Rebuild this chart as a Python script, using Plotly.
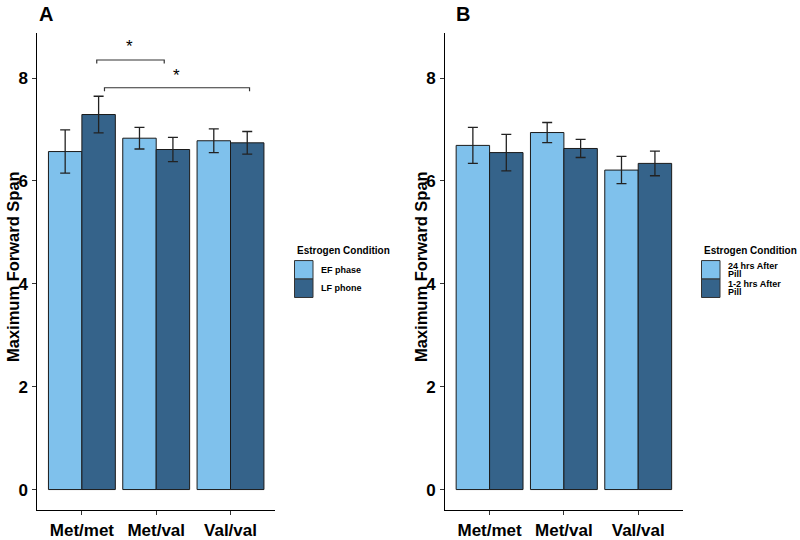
import plotly.graph_objects as go

# ---------------- data ----------------
genotypes = ["Met/met", "Met/val", "Val/val"]

a_groups = ["EF phase", "LF phone"]
a_ef_mean = [6.57, 6.83, 6.78]
a_ef_se = [0.42, 0.21, 0.23]
a_lf_mean = [7.29, 6.61, 6.74]
a_lf_se = [0.355, 0.235, 0.22]

b_groups = [["24 hrs After", "Pill"], ["1-2 hrs After", "Pill"]]
b_24_mean = [6.69, 6.94, 6.21]
b_24_se = [0.35, 0.195, 0.265]
b_12_mean = [6.55, 6.63, 6.34]
b_12_se = [0.355, 0.175, 0.24]

y_ticks = [0, 2, 4, 6, 8]
legend_title = "Estrogen Condition"
y_title = "Maximum Forward Span"

# significance brackets (panel A): x start, x end (category index units), y level, leg drop
bracket_x0 = [0.2, 0.304]
bracket_x1 = [1.108, 2.256]
bracket_y = [8.35, 7.81]
bracket_drop = [0.07, 0.07]
star_x = [0.64, 1.27]
star_y = [8.69, 8.12]

# ---------------- style ----------------
LIGHT = "#7FC1EC"
DARK = "#35638A"
EDGE = "#1a1a1a"
FONT = "Liberation Sans, Arial, sans-serif"
W, H = 800, 540


def px(x):
    return x / W


def py(y):
    return 1 - y / H


fig = go.Figure()


def add_bars(means, ses, color, name, xa, ya):
    fig.add_trace(go.Bar(
        x=genotypes, y=means, name=name, xaxis=xa, yaxis=ya,
        marker=dict(color=color, line=dict(color=EDGE, width=1)),
        error_y=dict(type="data", array=ses, visible=True,
                     color="#222222", thickness=1.3, width=5),
        showlegend=False, offsetgroup=name,
    ))


add_bars(a_ef_mean, a_ef_se, LIGHT, a_groups[0], "x", "y")
add_bars(a_lf_mean, a_lf_se, DARK, a_groups[1], "x", "y")
add_bars(b_24_mean, b_24_se, LIGHT, " ".join(b_groups[0]), "x2", "y2")
add_bars(b_12_mean, b_12_se, DARK, " ".join(b_groups[1]), "x2", "y2")

y_range = [-0.403, 8.883]
ydom = [py(517), py(33)]

axis_common = dict(
    showgrid=False, zeroline=False, showline=True, linecolor="black", linewidth=1,
    ticks="outside", ticklen=4, tickwidth=1, tickcolor="#333333",
    tickfont=dict(family=FONT, size=17, color="black", weight="bold"),
)

fig.update_layout(
    width=W, height=H,
    margin=dict(l=0, r=0, t=0, b=0),
    paper_bgcolor="white", plot_bgcolor="white",
    barmode="group", bargap=0.1, bargroupgap=0,
    font=dict(family=FONT, color="black"),
    xaxis=dict(domain=[px(37.3), px(275.1)], range=[-0.6, 2.6], anchor="y",
               type="category", **axis_common),
    yaxis=dict(domain=ydom, range=y_range, anchor="x", tickvals=y_ticks,
               ticklabelstandoff=1, **axis_common),
    xaxis2=dict(domain=[px(445), px(682.8)], range=[-0.6, 2.6], anchor="y2",
                type="category", **axis_common),
    yaxis2=dict(domain=ydom, range=y_range, anchor="x2", tickvals=y_ticks,
                ticklabelstandoff=1, **axis_common),
)

shapes = []
annotations = []

# brackets
for x0, x1, yb, d in zip(bracket_x0, bracket_x1, bracket_y, bracket_drop):
    shapes.append(dict(type="path", xref="x", yref="y",
                       path=f"M {x0},{yb - d} L {x0},{yb} L {x1},{yb} L {x1},{yb - d}",
                       line=dict(color="#333333", width=1.2)))
for sx, sy in zip(star_x, star_y):
    annotations.append(dict(x=sx, y=sy, xref="x", yref="y", text="*", showarrow=False,
                            font=dict(size=17, family=FONT, color="black"),
                            xanchor="center", yanchor="middle", yshift=-4))

# panel letters
for letter, cx in (("A", 46), ("B", 463)):
    annotations.append(dict(x=px(cx), y=py(14), xref="paper", yref="paper", text=letter,
                            showarrow=False, xanchor="center", yanchor="middle",
                            font=dict(size=20, family=FONT, color="black", weight="bold")))

# y-axis titles
for cx in (12.5, 420.5):
    annotations.append(dict(x=px(cx), y=py(270), xref="paper", yref="paper", text=y_title,
                            textangle=-90, showarrow=False, xanchor="center", yanchor="middle",
                            font=dict(size=16.5, family=FONT, color="black", weight="bold")))


# legends (manual, ggplot style)
def add_legend(x_left, labels, line_offsets):
    annotations.append(dict(x=px(x_left), y=py(254), xref="paper", yref="paper",
                            text=legend_title, showarrow=False, xanchor="left", yanchor="middle",
                            font=dict(size=10, family=FONT, color="black", weight="bold")))
    key_tops = [264, 282.7]
    for i, (col, lab) in enumerate(zip([LIGHT, DARK], labels)):
        t = key_tops[i]
        shapes.append(dict(type="rect", xref="paper", yref="paper",
                           x0=px(x_left), x1=px(x_left + 18.5), y0=py(t + 18.7), y1=py(t),
                           fillcolor=col, line=dict(color="#333333", width=1)))
        lines = lab if isinstance(lab, list) else [lab]
        for j, ln in enumerate(lines):
            cy = t + 9.5 + line_offsets[len(lines) - 1][j]
            annotations.append(dict(x=px(x_left + 24.5), y=py(cy), xref="paper", yref="paper",
                                    text=ln, showarrow=False, xanchor="left", yanchor="middle",
                                    font=dict(size=9, family=FONT, color="black", weight="bold")))


add_legend(294.5, a_groups, [[0], [-4, 4]])
add_legend(701.5, b_groups, [[0], [-4.3, 3.7]])

fig.update_layout(shapes=shapes, annotations=annotations)

fig.write_html("out.html", config={"displayModeBar": False},
               post_script="document.body.style.margin='0';document.body.style.padding='0';")
